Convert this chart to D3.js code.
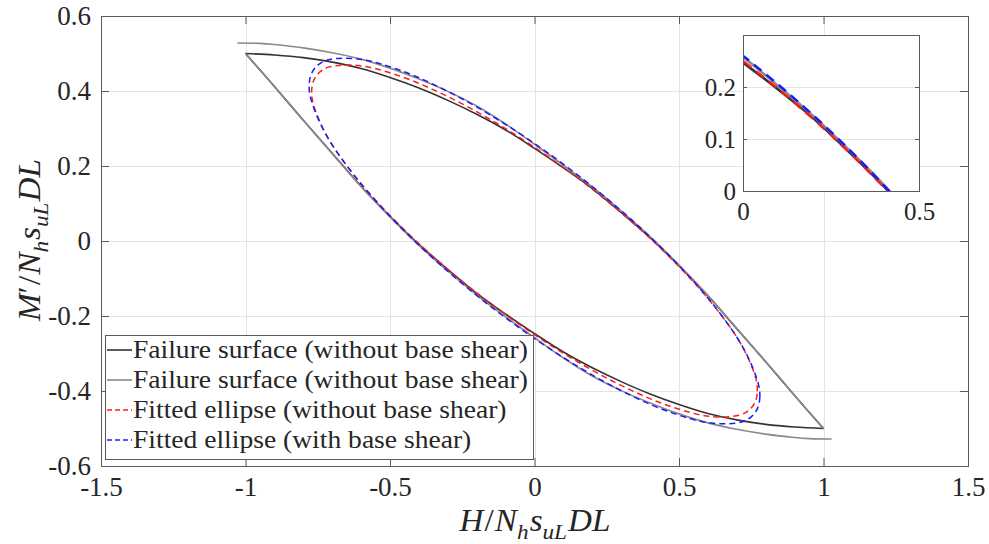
<!DOCTYPE html>
<html>
<head>
<meta charset="utf-8">
<script src="https://cdn.jsdelivr.net/npm/d3@7"></script>
<style>
  html, body { margin: 0; padding: 0; background: #fff; }
  svg { display: block; }
</style>
</head>
<body>
<svg id="chart" width="989" height="544"></svg>
<script>
// ---- Tick values ----
const xTicks = [-1.5, -1, -0.5, 0, 0.5, 1, 1.5];
const yTicks = [-0.6, -0.4, -0.2, 0, 0.2, 0.4, 0.6];
const insetXTicks = [0, 0.5];
const insetYTicks = [0, 0.1, 0.2];

// ---- Failure surface (without base shear): [H, M'] ----
const failUpper = [
  [-1.00, 0.500], [-0.90, 0.496], [-0.80, 0.489], [-0.70, 0.477], [-0.60, 0.460],
  [-0.50, 0.436], [-0.40, 0.408], [-0.30, 0.375], [-0.20, 0.338], [-0.10, 0.296],
  [0.00, 0.247], [0.10, 0.195], [0.20, 0.140], [0.30, 0.076], [0.40, 0.009],
  [0.50, -0.066], [0.60, -0.146], [0.70, -0.234], [0.80, -0.322], [0.90, -0.412],
  [1.00, -0.500]
];
const failLower = [
  [-1.00, 0.500], [-0.90, 0.412], [-0.80, 0.322], [-0.70, 0.234], [-0.60, 0.146],
  [-0.50, 0.066], [-0.40, -0.009], [-0.30, -0.076], [-0.20, -0.140], [-0.10, -0.195],
  [0.00, -0.247], [0.10, -0.296], [0.20, -0.338], [0.30, -0.375], [0.40, -0.408],
  [0.50, -0.436], [0.60, -0.460], [0.70, -0.477], [0.80, -0.489], [0.90, -0.496],
  [1.00, -0.500]
];

// ---- Failure surface (second set, lighter grey) ----
const failShearUpper = [
  [-1.028, 0.528], [-0.95, 0.527], [-0.90, 0.524], [-0.80, 0.515], [-0.70, 0.502],
  [-0.60, 0.485], [-0.50, 0.461], [-0.40, 0.432], [-0.30, 0.399], [-0.20, 0.360],
  [-0.10, 0.312], [0.00, 0.258], [0.10, 0.202], [0.20, 0.144], [0.30, 0.080],
  [0.40, 0.012], [0.50, -0.064], [0.60, -0.145], [0.70, -0.233], [0.80, -0.322],
  [0.90, -0.412], [1.00, -0.500]
];
const failShearLower = [
  [-1.00, 0.500], [-0.90, 0.412], [-0.80, 0.322], [-0.70, 0.233], [-0.60, 0.145],
  [-0.50, 0.064], [-0.40, -0.012], [-0.30, -0.080], [-0.20, -0.144], [-0.10, -0.202],
  [0.00, -0.258], [0.10, -0.312], [0.20, -0.360], [0.30, -0.399], [0.40, -0.432],
  [0.50, -0.461], [0.60, -0.485], [0.70, -0.502], [0.80, -0.515], [0.90, -0.524],
  [0.95, -0.527], [1.028, -0.528]
];

// ---- Fitted ellipse (without base shear), closed loop ----
const ellipseNoShear = [
  [0.7635, -0.4293], [0.7710, -0.4006], [0.7654, -0.3651], [0.7151, -0.2759],
  [0.6161, -0.1680], [0.4752, -0.0486], [0.3017, 0.0742], [0.1078, 0.1918],
  [-0.0935, 0.2964], [-0.2884, 0.3808], [-0.4637, 0.4392], [-0.6073, 0.4677],
  [-0.7096, 0.4643], [-0.7429, 0.4506], [-0.7635, 0.4293], [-0.7710, 0.4006],
  [-0.7654, 0.3651], [-0.7151, 0.2759], [-0.6161, 0.1680], [-0.4752, 0.0486],
  [-0.3017, -0.0742], [-0.1078, -0.1918], [0.0935, -0.2964], [0.2884, -0.3808],
  [0.4637, -0.4392], [0.6073, -0.4677], [0.7096, -0.4643], [0.7429, -0.4506]
];

// ---- Fitted ellipse (with base shear), closed loop ----
const ellipseShear = [
  [0.7713, -0.4471], [0.7796, -0.4176], [0.7745, -0.3810], [0.7250, -0.2888],
  [0.6260, -0.1770], [0.4844, -0.0533], [0.3097, 0.0743], [0.1140, 0.1967],
  [-0.0895, 0.3057], [-0.2870, 0.3939], [-0.4648, 0.4552], [-0.6110, 0.4856],
  [-0.7155, 0.4828], [-0.7498, 0.4690], [-0.7713, 0.4471], [-0.7796, 0.4176],
  [-0.7745, 0.3810], [-0.7250, 0.2888], [-0.6260, 0.1770], [-0.4844, 0.0533],
  [-0.3097, -0.0743], [-0.1140, -0.1967], [0.0895, -0.3057], [0.2870, -0.3939],
  [0.4648, -0.4552], [0.6110, -0.4856], [0.7155, -0.4828], [0.7498, -0.4690]
];

const legendLabels = [
  "Failure surface (without base shear)",
  "Failure surface (without base shear)",
  "Fitted ellipse (without base shear)",
  "Fitted ellipse (with base shear)"
];

// ---- Styles ----
const FONT = "'Liberation Serif', 'Times New Roman', serif";
const TEXT = "#262626";
const FRAME = "#5a5a5a";
const GRID = "#e4e4e4";
const styles = [
  { color: "#333333", width: 1.6, dash: null },
  { color: "#8a8a8a", width: 1.6, dash: null },
  { color: "#ff1a1a", width: 1.5, dash: "6,4" },
  { color: "#1a1aff", width: 1.5, dash: "6,4" }
];

const svg = d3.select("#chart");
const defs = svg.append("defs");

// ---- Main axes ----
const plot = { left: 101, right: 968, top: 16, bottom: 466 };
const x = d3.scaleLinear().domain([-1.5, 1.5]).range([plot.left, plot.right]);
const y = d3.scaleLinear().domain([-0.6, 0.6]).range([plot.bottom, plot.top]);
const fmt = d => String(d);

defs.append("clipPath").attr("id", "clipMain")
  .append("rect").attr("x", plot.left).attr("y", plot.top)
  .attr("width", plot.right - plot.left).attr("height", plot.bottom - plot.top);

// grid lines
const grid = svg.append("g").attr("stroke", GRID).attr("stroke-width", 1);
grid.selectAll(".gx").data(xTicks.slice(1, -1)).join("line")
  .attr("x1", d => Math.round(x(d)) + 0.5).attr("x2", d => Math.round(x(d)) + 0.5)
  .attr("y1", plot.top).attr("y2", plot.bottom);
grid.selectAll(".gy").data(yTicks.slice(1, -1)).join("line")
  .attr("y1", d => Math.round(y(d)) + 0.5).attr("y2", d => Math.round(y(d)) + 0.5)
  .attr("x1", plot.left).attr("x2", plot.right);

// curves
const openLine = (sx, sy) => d3.line().x(d => sx(d[0])).y(d => sy(d[1]))
  .curve(d3.curveCatmullRom.alpha(0.5));
const closedLine = (sx, sy) => d3.line().x(d => sx(d[0])).y(d => sy(d[1]))
  .curve(d3.curveCatmullRomClosed.alpha(0.5));

function drawCurves(g, sx, sy, scaleW) {
  const ol = openLine(sx, sy), cl = closedLine(sx, sy);
  const series = [
    { paths: [ol(failUpper), ol(failLower)], s: styles[0] },
    { paths: [ol(failShearUpper), ol(failShearLower)], s: styles[1] },
    { paths: [cl(ellipseNoShear)], s: styles[2] },
    { paths: [cl(ellipseShear)], s: styles[3] }
  ];
  series.forEach(({ paths, s }) => {
    paths.forEach(p => {
      g.append("path").attr("d", p)
        .attr("fill", "none")
        .attr("stroke", s.color)
        .attr("stroke-width", s.width * scaleW)
        .attr("stroke-linejoin", "round")
        .attr("stroke-dasharray", s.dash ? s.dash.split(",").map(v => v * scaleW).join(",") : null);
    });
  });
}

const curves = svg.append("g").attr("clip-path", "url(#clipMain)");
drawCurves(curves, x, y, 1);

// axes with inward ticks on all four sides
function styleAxis(g, size) {
  g.attr("font-family", null).attr("font-size", null);
  g.selectAll(".domain").attr("stroke", FRAME);
  g.selectAll(".tick line").attr("stroke", FRAME);
  g.selectAll(".tick text")
    .style("font-family", FONT)
    .style("font-size", size + "px")
    .style("fill", TEXT);
}
svg.append("g").attr("transform", `translate(0,${plot.bottom})`)
  .call(d3.axisBottom(x).tickValues(xTicks).tickSize(-8).tickSizeOuter(0).tickPadding(11).tickFormat(fmt))
  .call(g => styleAxis(g, 27));
svg.append("g").attr("transform", `translate(0,${plot.top})`)
  .call(d3.axisTop(x).tickValues(xTicks).tickSize(-8).tickSizeOuter(0).tickFormat(""))
  .call(g => styleAxis(g, 27));
svg.append("g").attr("transform", `translate(${plot.left},0)`)
  .call(d3.axisLeft(y).tickValues(yTicks).tickSize(-8).tickSizeOuter(0).tickPadding(10).tickFormat(fmt))
  .call(g => styleAxis(g, 27));
svg.append("g").attr("transform", `translate(${plot.right},0)`)
  .call(d3.axisRight(y).tickValues(yTicks).tickSize(-8).tickSizeOuter(0).tickFormat(""))
  .call(g => styleAxis(g, 27));

// ---- Axis labels (math italic) ----
function mathLabel(parent, parts, size, stretch) {
  const t = parent.append("text")
    .style("font-family", FONT).style("font-size", size + "px").style("fill", TEXT)
    .attr("text-anchor", "middle");
  let level = 0;
  parts.forEach(p => {
    const sub = !!p.sub;
    const shift = (sub ? 1 : 0) - level;
    level = sub ? 1 : 0;
    t.append("tspan")
      .style("font-style", p.upright ? "normal" : "italic")
      .style("font-size", (sub ? size * 0.7 : size) + "px")
      .attr("dy", shift * size * 0.25)
      .attr("dx", p.dx || 0)
      .text(p.t);
  });
  const w = t.node().getComputedTextLength();
  t.attr("textLength", w * stretch).attr("lengthAdjust", "spacingAndGlyphs");
  return t;
}
const xLabelParts = [
  { t: "H" }, { t: "/", upright: true, dx: 1 }, { t: "N", dx: 1 }, { t: "h", sub: true },
  { t: "s", dx: 1 }, { t: "uL", sub: true }, { t: "DL", dx: 1 }
];
const yLabelParts = [
  { t: "M" }, { t: "\u2032", upright: true }, { t: "/", upright: true, dx: 1 }, { t: "N", dx: 1 },
  { t: "h", sub: true }, { t: "s", dx: 1 }, { t: "uL", sub: true }, { t: "DL", dx: 1 }
];
mathLabel(svg.append("g").attr("transform", "translate(535,531)"), xLabelParts, 31, 1.1);
mathLabel(svg.append("g").attr("transform", "translate(40,240) rotate(-90)"), yLabelParts, 31, 1.1);

// ---- Legend ----
const leg = svg.append("g");
const legBox = { x: 105, y: 335, w: 428, h: 124 };
leg.append("rect")
  .attr("x", legBox.x + 0.5).attr("y", legBox.y + 0.5)
  .attr("width", legBox.w).attr("height", legBox.h)
  .attr("fill", "#fff").attr("stroke", FRAME).attr("stroke-width", 1);
legendLabels.forEach((lab, i) => {
  const cy = legBox.y + 15 + i * 30;
  const s = styles[i];
  leg.append("line")
    .attr("x1", legBox.x + 2).attr("x2", legBox.x + 27)
    .attr("y1", cy).attr("y2", cy)
    .attr("stroke", s.color).attr("stroke-width", s.width)
    .attr("stroke-dasharray", s.dash ? "5,3" : null);
  const t = leg.append("text")
    .attr("x", legBox.x + 28).attr("y", cy + 8)
    .style("font-family", FONT).style("font-size", "26px").style("fill", TEXT)
    .text(lab);
  const w = t.node().getComputedTextLength();
  t.attr("textLength", w * 1.06).attr("lengthAdjust", "spacingAndGlyphs");
});

// ---- Inset: zoom on the first quadrant ----
const inset = { left: 743, right: 919, top: 35, bottom: 191 };
const ix = d3.scaleLinear().domain([0, 0.5]).range([inset.left, inset.right]);
const iy = d3.scaleLinear().domain([0, 0.3]).range([inset.bottom, inset.top]);
const ig = svg.append("g");
ig.append("rect")
  .attr("x", inset.left).attr("y", inset.top)
  .attr("width", inset.right - inset.left).attr("height", inset.bottom - inset.top)
  .attr("fill", "#fff");
defs.append("clipPath").attr("id", "clipInset")
  .append("rect").attr("x", inset.left).attr("y", inset.top)
  .attr("width", inset.right - inset.left).attr("height", inset.bottom - inset.top);
ig.append("g").attr("stroke", GRID).selectAll("line")
  .data(insetYTicks.slice(1)).join("line")
  .attr("x1", inset.left).attr("x2", inset.right)
  .attr("y1", d => Math.round(iy(d)) + 0.5).attr("y2", d => Math.round(iy(d)) + 0.5);
drawCurves(ig.append("g").attr("clip-path", "url(#clipInset)"), ix, iy, 1.6);
ig.append("g").attr("transform", `translate(0,${inset.bottom})`)
  .call(d3.axisBottom(ix).tickValues(insetXTicks).tickSize(-4).tickSizeOuter(0).tickPadding(11).tickFormat(fmt))
  .call(g => styleAxis(g, 25));
ig.append("g").attr("transform", `translate(0,${inset.top})`)
  .call(d3.axisTop(ix).tickValues(insetXTicks).tickSize(-4).tickSizeOuter(0).tickFormat(""))
  .call(g => styleAxis(g, 25));
ig.append("g").attr("transform", `translate(${inset.left},0)`)
  .call(d3.axisLeft(iy).tickValues(insetYTicks).tickSize(-4).tickSizeOuter(0).tickPadding(7).tickFormat(fmt))
  .call(g => styleAxis(g, 25));
ig.append("g").attr("transform", `translate(${inset.right},0)`)
  .call(d3.axisRight(iy).tickValues(insetYTicks).tickSize(-4).tickSizeOuter(0).tickFormat(""))
  .call(g => styleAxis(g, 25));
ig.append("rect")
  .attr("x", inset.left + 0.5).attr("y", inset.top + 0.5)
  .attr("width", inset.right - inset.left).attr("height", inset.bottom - inset.top)
  .attr("fill", "none").attr("stroke", FRAME);

// main frame on top
svg.append("rect")
  .attr("x", plot.left + 0.5).attr("y", plot.top + 0.5)
  .attr("width", plot.right - plot.left).attr("height", plot.bottom - plot.top)
  .attr("fill", "none").attr("stroke", FRAME);
</script>
</body>
</html>
